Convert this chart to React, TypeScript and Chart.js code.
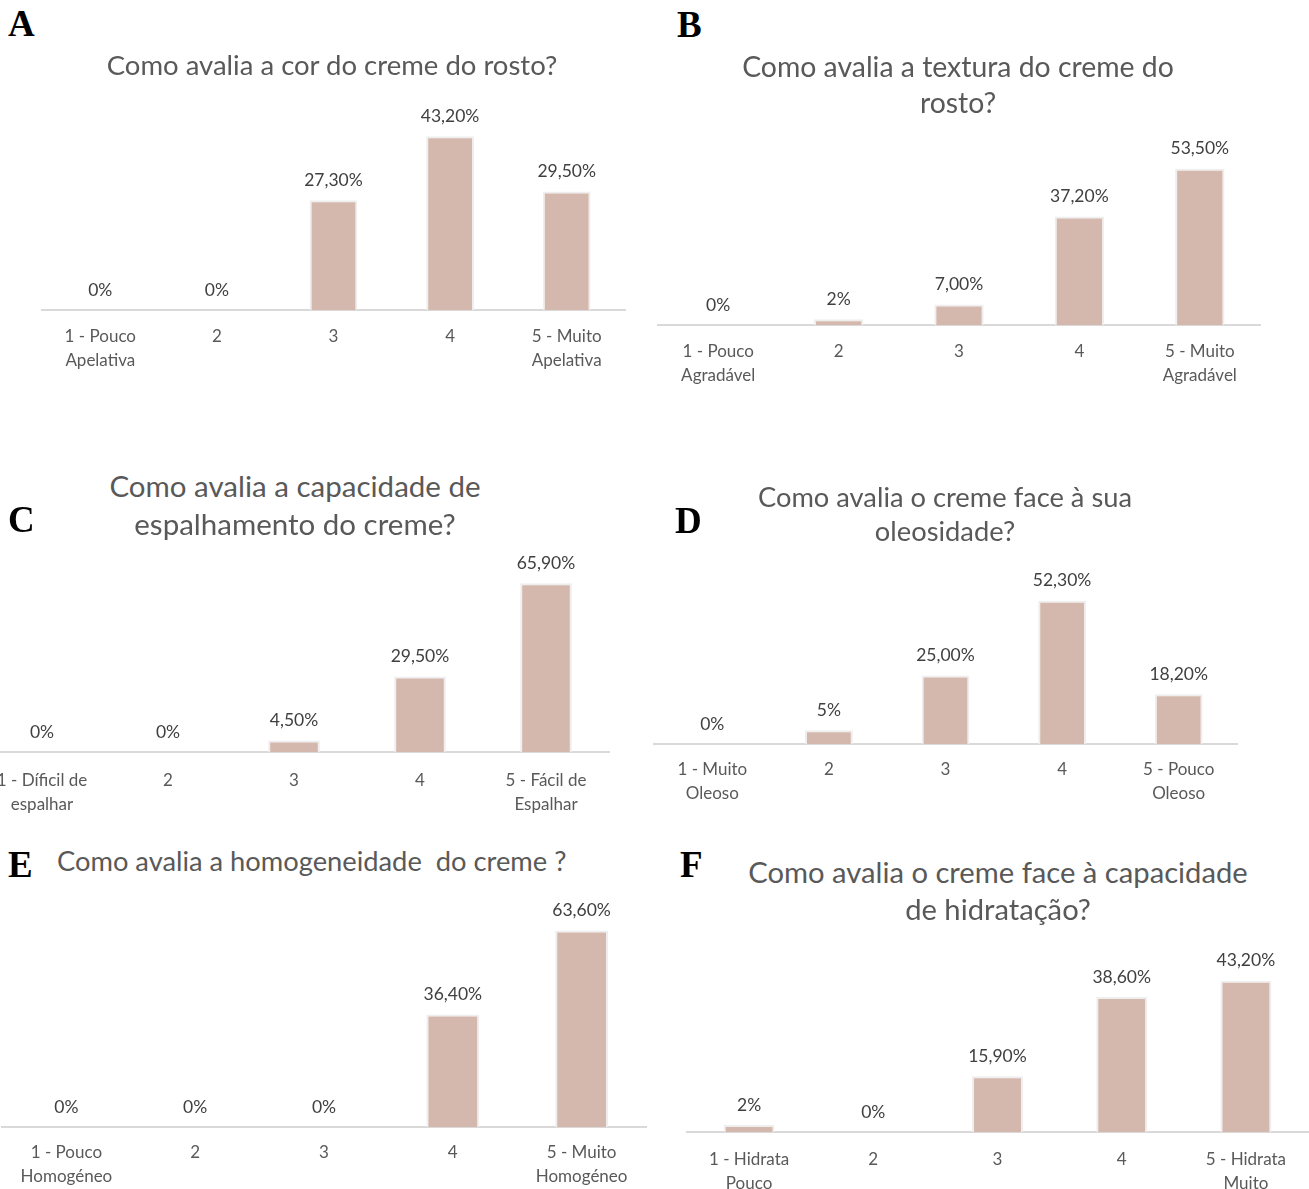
import React, { useEffect, useRef } from "react";
import { Chart, registerables } from "chart.js";

Chart.register(...registerables);

const FONT = "Lato, 'Open Sans', sans-serif";
const BAR_FILL = "#d5b8ad";
const BAR_EDGE = "#efeeee";
const AXIS_COLOR = "#d9d9d9";
const TEXT_GREY = "#595959";
const LABEL_GREY = "#404040";

// A – cor do creme
const corCategorias = [["1 - Pouco", "Apelativa"], "2", "3", "4", ["5 - Muito", "Apelativa"]];
const corValores = [0, 0, 27.3, 43.2, 29.5];
const corDecimais = [0, 0, 2, 2, 2];

// B – textura
const texturaCategorias = [["1 - Pouco", "Agradável"], "2", "3", "4", ["5 - Muito", "Agradável"]];
const texturaValores = [0, 2, 7.0, 37.2, 53.5];
const texturaDecimais = [0, 0, 2, 2, 2];

// C – espalhamento
const espalhamentoCategorias = [["1 - Díficil de", "espalhar"], "2", "3", "4", ["5 - Fácil de", "Espalhar"]];
const espalhamentoValores = [0, 0, 4.5, 29.5, 65.9];
const espalhamentoDecimais = [0, 0, 2, 2, 2];

// D – oleosidade
const oleosidadeCategorias = [["1 - Muito", "Oleoso"], "2", "3", "4", ["5 - Pouco", "Oleoso"]];
const oleosidadeValores = [0, 5, 25.0, 52.3, 18.2];
const oleosidadeDecimais = [0, 0, 2, 2, 2];

// E – homogeneidade
const homogeneidadeCategorias = [["1 - Pouco", "Homogéneo"], "2", "3", "4", ["5 - Muito", "Homogéneo"]];
const homogeneidadeValores = [0, 0, 0, 36.4, 63.6];
const homogeneidadeDecimais = [0, 0, 0, 2, 2];

// F – hidratação
const hidratacaoCategorias = [["1 - Hidrata", "Pouco"], "2", "3", "4", ["5 - Hidrata", "Muito"]];
const hidratacaoValores = [2, 0, 15.9, 38.6, 43.2];
const hidratacaoDecimais = [0, 0, 2, 2, 2];

const PAD_X = 20;
const PAD_TOP = 30;
const PLOT_H = 200;
const AXIS_H = 85;

type Layout = {
  letter: string;
  letterX: number;
  letterCapTop: number;
  title: string[];
  titleCx?: number;
  titleLeft?: number;
  titleBaselines: number[];
  titleSize: number;
  plotLeft: number;
  plotRight: number;
  axisY: number;
  pxPerPct: number;
  tickPad: number;
};

type PanelProps = {
  categories: (string | string[])[];
  values: number[];
  decimals: number[];
  layout: Layout;
};

function Panel({ categories, values, decimals, layout }: PanelProps) {
  const ref = useRef<HTMLCanvasElement | null>(null);
  const width = layout.plotRight - layout.plotLeft + 2 * PAD_X;
  const height = PAD_TOP + PLOT_H + AXIS_H;

  useEffect(() => {
    if (!ref.current) return;
    // percentage labels above each bar
    const valueLabels = {
      id: "valueLabels",
      afterDatasetsDraw(chart: any) {
        const ctx = chart.ctx;
        const meta = chart.getDatasetMeta(0);
        ctx.save();
        ctx.font = `17.5px ${FONT}`;
        ctx.fillStyle = LABEL_GREY;
        ctx.textAlign = "center";
        ctx.textBaseline = "middle";
        meta.data.forEach((bar: any, i: number) => {
          const text = values[i].toFixed(decimals[i]).replace(".", ",") + "%";
          ctx.fillText(text, bar.x, bar.y - 20);
        });
        ctx.restore();
      },
    };
    const chart = new Chart(ref.current, {
      type: "bar",
      data: {
        labels: categories as any,
        datasets: [
          {
            data: values,
            backgroundColor: BAR_FILL,
            borderColor: BAR_EDGE,
            borderWidth: 2,
            borderSkipped: "bottom",
            barPercentage: 0.41,
            categoryPercentage: 1,
          },
        ],
      },
      options: {
        responsive: false,
        animation: false,
        devicePixelRatio: 1,
        layout: { padding: { top: PAD_TOP, left: PAD_X, right: PAD_X, bottom: 0 } },
        plugins: {
          legend: { display: false },
          tooltip: { enabled: false },
          title: { display: false },
        },
        scales: {
          x: {
            grid: { display: false },
            border: { display: true, color: AXIS_COLOR, width: 2 },
            ticks: {
              color: TEXT_GREY,
              font: { family: FONT, size: 17, lineHeight: 1.4 },
              padding: layout.tickPad,
              maxRotation: 0,
              minRotation: 0,
              autoSkip: false,
            },
            afterFit: (scale: any) => {
              scale.height = AXIS_H;
            },
          },
          y: {
            display: false,
            min: 0,
            max: PLOT_H / layout.pxPerPct,
          },
        },
      },
      plugins: [valueLabels],
    });
    return () => chart.destroy();
  }, []);

  const s = layout.titleSize;
  return (
    <>
      <canvas
        ref={ref}
        width={width}
        height={height}
        style={{
          position: "absolute",
          left: layout.plotLeft - PAD_X,
          top: layout.axisY - PLOT_H - PAD_TOP,
          width,
          height,
        }}
      />
      {layout.title.map((line, i) => (
        <div
          key={i}
          style={{
            position: "absolute",
            left: layout.titleCx !== undefined ? layout.titleCx - 400 : layout.titleLeft,
            width: layout.titleCx !== undefined ? 800 : undefined,
            textAlign: layout.titleCx !== undefined ? "center" : "left",
            top: layout.titleBaselines[i] - 0.987 * s,
            fontFamily: FONT,
            fontSize: s,
            lineHeight: `${1.2 * s}px`,
            color: TEXT_GREY,
            whiteSpace: "pre",
          }}
        >
          {line}
        </div>
      ))}
      <div
        style={{
          position: "absolute",
          left: layout.letterX,
          top: layout.letterCapTop - 6,
          fontFamily: "'Liberation Serif', 'Times New Roman', serif",
          fontWeight: "bold",
          fontSize: 37,
          lineHeight: "36px",
          color: "#000",
        }}
      >
        {layout.letter}
      </div>
    </>
  );
}

const layoutA: Layout = {
  letter: "A", letterX: 8, letterCapTop: 12,
  title: ["Como avalia a cor do creme do rosto?"], titleCx: 332, titleBaselines: [75], titleSize: 27.5,
  plotLeft: 42, plotRight: 625, axisY: 310, pxPerPct: 4.02, tickPad: 7,
};
const layoutB: Layout = {
  letter: "B", letterX: 677, letterCapTop: 13,
  title: ["Como avalia a textura do creme do", "rosto?"], titleCx: 958, titleBaselines: [77, 113], titleSize: 28.4,
  plotLeft: 658, plotRight: 1260, axisY: 325, pxPerPct: 2.92, tickPad: 7,
};
const layoutC: Layout = {
  letter: "C", letterX: 8, letterCapTop: 508,
  title: ["Como avalia a capacidade de", "espalhamento do creme?"], titleCx: 295, titleBaselines: [497, 535], titleSize: 29.5,
  plotLeft: -21, plotRight: 609, axisY: 752, pxPerPct: 2.56, tickPad: 9,
};
const layoutD: Layout = {
  letter: "D", letterX: 675, letterCapTop: 509,
  title: ["Como avalia o creme face à sua", "oleosidade?"], titleCx: 945, titleBaselines: [508, 542], titleSize: 27.3,
  plotLeft: 654, plotRight: 1237, axisY: 744, pxPerPct: 2.74, tickPad: 6,
};
const layoutE: Layout = {
  letter: "E", letterX: 8, letterCapTop: 853,
  title: ["Como avalia a homogeneidade  do creme ?"], titleLeft: 57, titleBaselines: [872], titleSize: 27.3,
  plotLeft: 2, plotRight: 646, axisY: 1127, pxPerPct: 3.09, tickPad: 6,
};
const layoutF: Layout = {
  letter: "F", letterX: 680, letterCapTop: 853,
  title: ["Como avalia o creme face à capacidade", "de hidratação?"], titleCx: 998, titleBaselines: [883, 920], titleSize: 29.2,
  plotLeft: 687, plotRight: 1308, axisY: 1132, pxPerPct: 3.5, tickPad: 8,
};

export default function App() {
  return (
    <div
      style={{
        position: "absolute",
        left: 0,
        top: 0,
        width: 1309,
        height: 1189,
        overflow: "hidden",
        background: "#fff",
      }}
    >
      <Panel categories={corCategorias} values={corValores} decimals={corDecimais} layout={layoutA} />
      <Panel categories={texturaCategorias} values={texturaValores} decimals={texturaDecimais} layout={layoutB} />
      <Panel categories={espalhamentoCategorias} values={espalhamentoValores} decimals={espalhamentoDecimais} layout={layoutC} />
      <Panel categories={oleosidadeCategorias} values={oleosidadeValores} decimals={oleosidadeDecimais} layout={layoutD} />
      <Panel categories={homogeneidadeCategorias} values={homogeneidadeValores} decimals={homogeneidadeDecimais} layout={layoutE} />
      <Panel categories={hidratacaoCategorias} values={hidratacaoValores} decimals={hidratacaoDecimais} layout={layoutF} />
    </div>
  );
}
